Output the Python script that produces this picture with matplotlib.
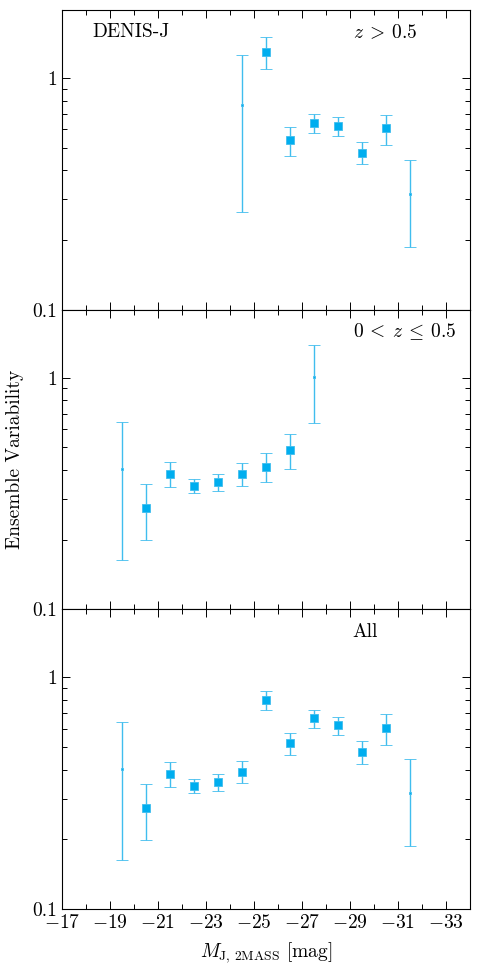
import matplotlib
matplotlib.use('Agg')
import matplotlib.pyplot as plt
import numpy as np
from matplotlib.ticker import FixedLocator, MultipleLocator, FuncFormatter, NullFormatter

plt.rcParams['font.family'] = 'serif'
plt.rcParams['font.serif'] = ['cmr10', 'DejaVu Serif']
plt.rcParams['mathtext.fontset'] = 'cm'
plt.rcParams['axes.unicode_minus'] = False

# absolute magnitude bins
mag_hi_z = [-24.5, -25.5, -26.5, -27.5, -28.5, -29.5, -30.5, -31.5]
var_hi_z = [0.762, 1.30, 0.54, 0.643, 0.622, 0.477, 0.606, 0.316]
up_hi_z = [1.26, 1.50, 0.615, 0.701, 0.678, 0.532, 0.696, 0.445]
lo_hi_z = [0.263, 1.097, 0.463, 0.582, 0.565, 0.424, 0.513, 0.187]
dot_hi_z = [True, False, False, False, False, False, False, True]

mag_lo_z = [-19.5, -20.5, -21.5, -22.5, -23.5, -24.5, -25.5, -26.5, -27.5]
var_lo_z = [0.404, 0.273, 0.383, 0.342, 0.354, 0.383, 0.413, 0.488, 1.01]
up_lo_z = [0.643, 0.348, 0.432, 0.365, 0.383, 0.427, 0.472, 0.571, 1.38]
lo_lo_z = [0.163, 0.199, 0.336, 0.317, 0.324, 0.340, 0.354, 0.402, 0.637]
dot_lo_z = [True, False, False, False, False, False, False, False, True]

mag_all = [-19.5, -20.5, -21.5, -22.5, -23.5, -24.5, -25.5, -26.5, -27.5,
           -28.5, -29.5, -30.5, -31.5]
var_all = [0.404, 0.273, 0.383, 0.341, 0.354, 0.392, 0.798, 0.520, 0.665,
           0.622, 0.477, 0.606, 0.316]
up_all = [0.643, 0.348, 0.432, 0.365, 0.383, 0.436, 0.870, 0.576, 0.725,
          0.678, 0.532, 0.696, 0.445]
lo_all = [0.163, 0.199, 0.336, 0.317, 0.324, 0.350, 0.725, 0.463, 0.606,
          0.565, 0.424, 0.513, 0.187]
dot_all = [True, False, False, False, False, False, False, False, False,
           False, False, False, True]

panels = [
    (mag_hi_z, var_hi_z, up_hi_z, lo_hi_z, dot_hi_z, r'$z\:>\:0.5$'),
    (mag_lo_z, var_lo_z, up_lo_z, lo_lo_z, dot_lo_z, r'$0\:<\:z\:\leq\:0.5$'),
    (mag_all, var_all, up_all, lo_all, dot_all, 'All'),
]

mark_col = '#00aeef'
err_col = '#40bdee'

fig, axes = plt.subplots(3, 1, figsize=(4.79, 9.68), dpi=100, sharex=True)
fig.subplots_adjust(left=0.129, right=0.981, top=0.9897, bottom=0.061, hspace=0)

for ax, (m, v, up, lo, dot, lab) in zip(axes, panels):
    m = np.array(m)
    v = np.array(v)
    up = np.array(up)
    lo = np.array(lo)
    dot = np.array(dot)
    for sel, ms in [(~dot, 5.5), (dot, 1.5)]:
        ax.errorbar(m[sel], v[sel], yerr=[v[sel] - lo[sel], up[sel] - v[sel]],
                    fmt='s', ms=ms, mfc=mark_col, mec=err_col, mew=0.6,
                    ecolor=err_col, elinewidth=1.0, capsize=4.5, capthick=1.0)
    ax.set_yscale('log')
    ax.set_ylim(0.1, 1.97)
    ax.set_xlim(-17, -34)
    ax.yaxis.set_major_locator(FixedLocator([0.1, 1]))
    ax.yaxis.set_major_formatter(FuncFormatter(lambda y, p: '%g' % y))
    ax.yaxis.set_minor_locator(FixedLocator([0.2, 0.3, 0.4, 0.5, 0.6, 0.7, 0.8, 0.9]))
    ax.yaxis.set_minor_formatter(NullFormatter())
    ax.xaxis.set_major_locator(MultipleLocator(2, offset=1))
    ax.xaxis.set_minor_locator(MultipleLocator(1))
    ax.xaxis.set_major_formatter(FuncFormatter(lambda x, p: r'$%d$' % x))
    ax.tick_params(which='both', direction='in', top=True, right=True,
                   labelsize=14, width=0.7)
    ax.tick_params(which='major', length=6)
    ax.tick_params(which='minor', length=3.5)
    for sp in ax.spines.values():
        sp.set_linewidth(0.8)
    ax.text(0.713, 0.925, lab, transform=ax.transAxes, fontsize=14,
            ha='left', va='center')

axes[0].text(0.075, 0.925, 'DENIS-J', transform=axes[0].transAxes, fontsize=14,
             ha='left', va='center')
axes[1].set_ylabel('Ensemble Variability', fontsize=14, labelpad=6)
axes[2].set_xlabel(r'$M_{\mathrm{J,\,2MASS}}$ [mag]', fontsize=14, labelpad=6)

fig.savefig('out.png', dpi=100)
